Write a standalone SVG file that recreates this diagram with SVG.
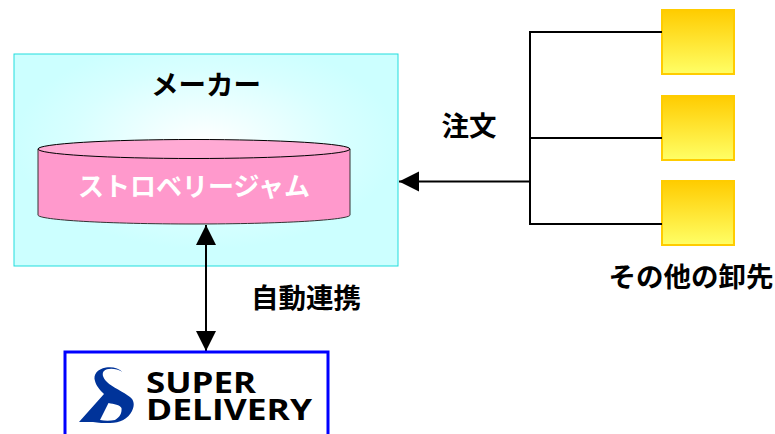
<svg xmlns="http://www.w3.org/2000/svg" width="775" height="434" viewBox="0 0 775 434">
<style>
text{font-family:"Noto Sans CJK JP","Liberation Sans",sans-serif;fill:#000}
.lb{font-size:27.500px;font-weight:700;text-anchor:middle}
.ln{fill:none;stroke:#000;stroke-width:2}
.ws{fill:url(#y);stroke:#ffcc00;stroke-width:2}
.lg{font-family:"Open Sans","Liberation Sans",sans-serif;font-size:28px;font-weight:700}
</style>
<defs>
<radialGradient id="c" cx="0.5" cy="0.42" r="0.5">
<stop offset="0" stop-color="#fff"/><stop offset="0.7" stop-color="#d8ffff"/><stop offset="1" stop-color="#ccffff"/>
</radialGradient>
<linearGradient id="y" x1="0" y1="0" x2="0" y2="1">
<stop offset="0" stop-color="#ffcc00"/><stop offset="1" stop-color="#ffff66"/>
</linearGradient>
<marker id="a" markerUnits="userSpaceOnUse" markerWidth="22" markerHeight="22" refX="20" refY="10" orient="auto-start-reverse" viewBox="0 0 22 20"><path d="M0 0L20 10L0 20Z" fill="#000"/></marker>
</defs>
<g id="maker">
<rect x="14" y="54" width="384" height="212" fill="url(#c)" stroke="#22dddd" stroke-width="1"/>
<text class="lb" x="206" y="95">メーカー</text>
</g>
<g id="jam">
<path d="M38 149V215C38 220 108 224 194 224S350 220 350 215V149Z" fill="#ff99cc" stroke="#333" stroke-width="1"/>
<ellipse cx="194" cy="149" rx="156" ry="9.500" fill="#ffaad4" stroke="#000" stroke-width="1"/>
<text x="194" y="196" style="fill:#fff;font-size:26px;font-weight:700;text-anchor:middle">ストロベリージャム</text>
</g>
<g id="w1"><rect class="ws" x="662" y="10" width="72" height="64"/></g>
<g id="w2"><rect class="ws" x="662" y="96" width="72" height="64"/></g>
<g id="w3"><rect class="ws" x="662" y="181" width="72" height="64"/></g>
<g id="connectors">
<path class="ln" d="M662 32H530V224H662M530 138H662"/>
<path class="ln" d="M530 181.500H399" marker-end="url(#a)"/>
<path class="ln" d="M206 351V225" marker-start="url(#a)" marker-end="url(#a)"/>
</g>
<text class="lb" x="469" y="136">注文</text>
<text class="lb" x="691" y="287">その他の卸先</text>
<text class="lb" x="306" y="308">自動連携</text>
<g id="delivery">
<path d="M65 434V352H328V434" fill="#fff" stroke="#0000ff" stroke-width="3"/>
<path d="M122.500 372C119 368 112 366.500 106 367.500C97 369 93 375 95 381C96 386 101 391 104 394L79 422H93C98 423 104 423 110 423C120 423 128 419 132 411C135 405 134 400 130 397C124 392 112 387 107 382C102 377 102 373 104 371C107 368 116 368 122.500 372ZM100 420L108.500 403C114 404 120 405 121.500 408C122 413 120 417 115 420C110 421 105 421 100 420Z" fill="#003399" fill-rule="evenodd"/>
<text class="lg" x="146" y="393" textLength="110" lengthAdjust="spacingAndGlyphs">SUPER</text>
<text class="lg" x="146" y="420" textLength="166" lengthAdjust="spacingAndGlyphs">DELIVERY</text>
</g>
</svg>
